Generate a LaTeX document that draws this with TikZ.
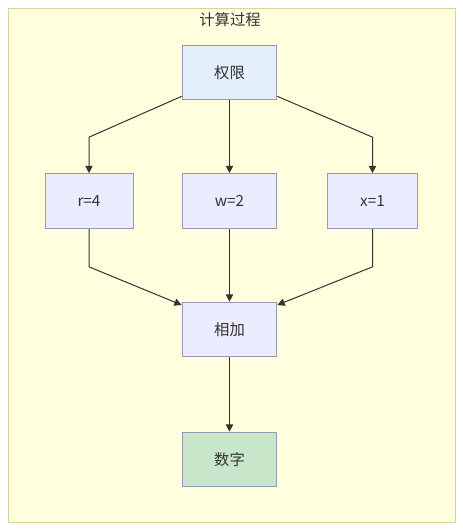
\documentclass[tikz,border=0pt]{standalone}
\usepackage{fontspec}
\setmainfont{Noto Sans CJK SC}
\usetikzlibrary{arrows.meta}
\definecolor{clusterfill}{HTML}{FFFFDE}
\definecolor{clusterline}{HTML}{D6D69A}
\definecolor{nodefill}{HTML}{ECECFF}
\definecolor{topfill}{HTML}{E3F0FB}
\definecolor{numfill}{HTML}{C8E6C9}
\definecolor{nodeline}{HTML}{9B97B3}
\definecolor{edgegrey}{HTML}{333333}
\definecolor{textgrey}{HTML}{333333}

\begin{document}
\begin{tikzpicture}[x=0.75pt,y=0.75pt,yscale=-1,xscale=1,
    box/.style={draw=nodeline, fill=nodefill, line width=0.75pt, minimum width=71pt, minimum height=41pt, inner sep=0pt, text=textgrey, font=\fontsize{11.5}{13}\selectfont},
    edge/.style={draw=edgegrey, line width=0.75pt, -{Triangle[length=5.5pt,width=5.5pt]}}]
    \useasboundingbox (0,0) rectangle (462,532);
    % cluster
    \draw [clusterline, fill=clusterfill, line width=0.75pt] (8,8) rectangle (455,522);
    \node [text=textgrey, font=\fontsize{11.5}{13}\selectfont] (title) at (230,20) {计算过程};
    % nodes
    \node [box, fill=topfill] (quanxian) at (229.5,72.5) {权限};
    \node [box, minimum width=66pt] (r4) at (89,201) {r=4};
    \node [box] (w2) at (229.5,201) {w=2};
    \node [box, minimum width=67pt] (x1) at (372.5,201) {x=1};
    \node [box] (xiangjia) at (229.5,329.5) {相加};
    \node [box, fill=numfill] (shuzi) at (229.5,459.5) {数字};
    % edges (yshift is flipped by yscale=-1)
    \draw [edge] ([yshift=-3pt]quanxian.south west) -- ([yshift=-27pt]r4.north) -- (r4.north);
    \draw [edge] (quanxian) -- (w2);
    \draw [edge] ([yshift=-3pt]quanxian.south east) -- ([yshift=-27pt]x1.north) -- (x1.north);
    \draw [edge] (r4.south) -- ([yshift=28.5pt]r4.south) -- ([yshift=2.5pt]xiangjia.north west);
    \draw [edge] (w2) -- (xiangjia);
    \draw [edge] (x1.south) -- ([yshift=28.5pt]x1.south) -- ([yshift=2.5pt]xiangjia.north east);
    \draw [edge] (xiangjia) -- (shuzi);
\end{tikzpicture}
\end{document}
